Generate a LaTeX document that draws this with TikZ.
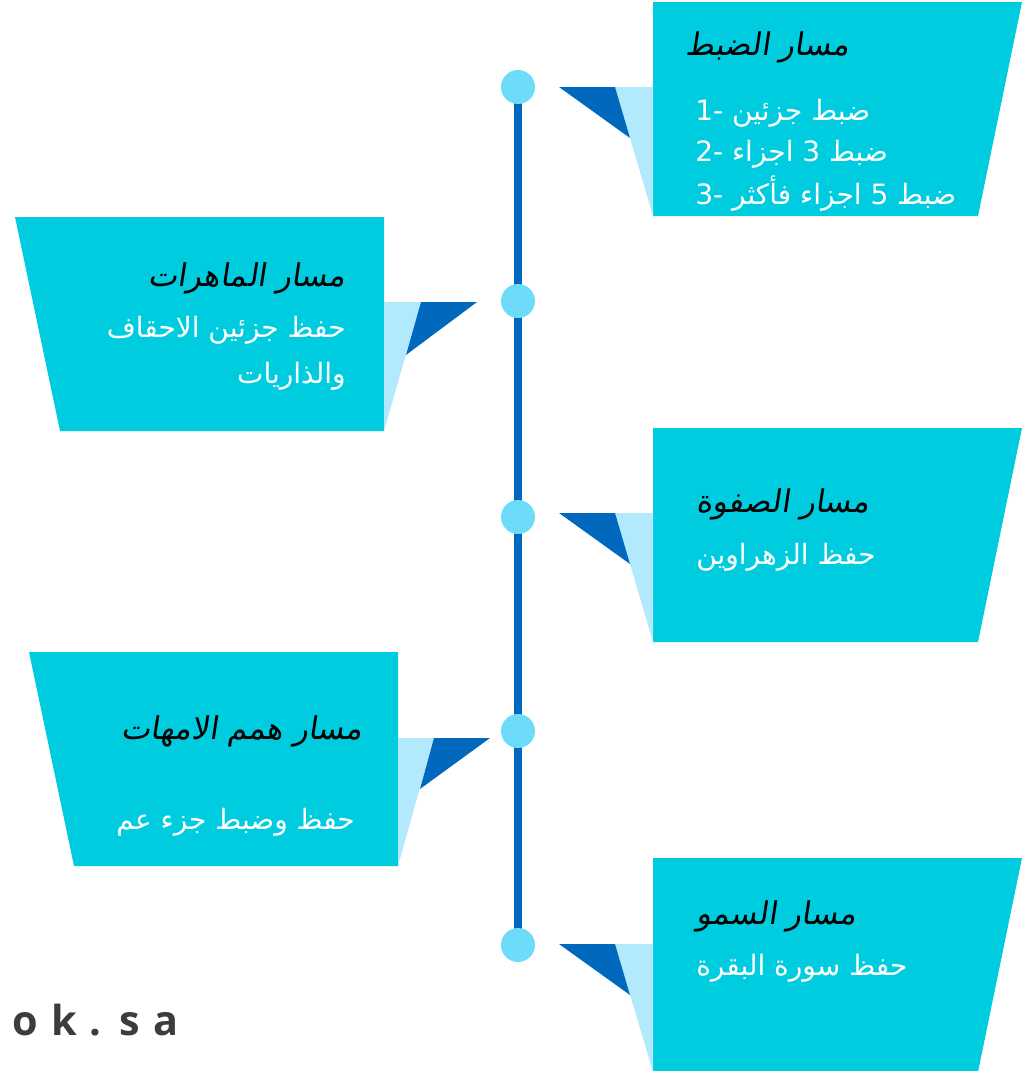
\documentclass[tikz,border=0pt]{standalone}
\usepackage{fontspec}
\usepackage{tikz}
\usepackage{xcolor}
\TeXXeTstate=1
\newfontfamily\arabicfont[Script=Arabic]{DejaVu Sans}
\newfontfamily\arabictitlefont[Script=Arabic, FakeSlant=0.15]{DejaVu Sans}
\newfontfamily\latinfont{DejaVu Sans}
\newfontfamily\logofont[LetterSpace=6]{Open Sans}
\pgfdeclarelayer{bg}
\pgfsetlayers{bg,main}
\definecolor{Card-A}{RGB}{0, 204, 224}
\definecolor{Card-B}{RGB}{179, 233, 252}
\definecolor{Card-C}{RGB}{0, 104, 189}
\definecolor{Dot-A}{RGB}{109, 220, 250}
\definecolor{Logo-A}{RGB}{60, 60, 60}

\begin{document}
\begin{tikzpicture}[x=0.75pt, y=-0.75pt,
    dot/.style={circle, fill=Dot-A, minimum size=25.5pt, inner sep=0pt},
    timeline/.style={Card-C, line width=6pt},
    title/.style={inner sep=0pt, font=\arabictitlefont\fontsize{23.5}{28}\selectfont, text=black},
    body/.style={inner sep=0pt, font=\arabicfont\fontsize{21}{25}\selectfont, text=white}]

    \useasboundingbox (0,0) rectangle (1028,1071);

    % timeline
    \node[dot] (dot1) at (518,87) {};
    \node[dot] (dot2) at (518,301) {};
    \node[dot] (dot3) at (518,517) {};
    \node[dot] (dot4) at (518,731) {};
    \node[dot] (dot5) at (518,945) {};
    \begin{pgfonlayer}{bg}
        \draw[timeline] (dot1.center) -- (dot5.center);
    \end{pgfonlayer}

    % right cards
    \fill[Card-A] (653,2) -- (1022,2) -- (978,216) -- (653,216) -- cycle;
    \fill[Card-B] (615,87) -- (653,87) -- (653,216) -- cycle;
    \fill[Card-C] (559,87) -- (615,87) -- (630,138) -- cycle;

    \fill[Card-A] (653,428) -- (1022,428) -- (978,642) -- (653,642) -- cycle;
    \fill[Card-B] (615,513) -- (653,513) -- (653,642) -- cycle;
    \fill[Card-C] (559,513) -- (615,513) -- (630,564) -- cycle;

    \fill[Card-A] (653,858) -- (1022,858) -- (978,1072) -- (653,1072) -- cycle;
    \fill[Card-B] (615,944) -- (653,944) -- (653,1072) -- cycle;
    \fill[Card-C] (559,944) -- (615,944) -- (630,995) -- cycle;

    % left cards
    \fill[Card-A] (15,217) -- (384,217) -- (384,431) -- (60,431) -- cycle;
    \fill[Card-B] (384,302) -- (421,302) -- (384,431) -- cycle;
    \fill[Card-C] (421,302) -- (477,302) -- (406,355) -- cycle;

    \fill[Card-A] (29,652) -- (398,652) -- (398,866) -- (74,866) -- cycle;
    \fill[Card-B] (398,738) -- (434,738) -- (398,866) -- cycle;
    \fill[Card-C] (434,738) -- (490,738) -- (420,789) -- cycle;

    % texts
    \node[title, anchor=west] (dabt) at (685,47) {\beginR مسار الضبط\endR};
    \node[body, anchor=west] (dabt1) at (695,113) {{\latinfont 1-} \beginR ضبط جزئين\endR};
    \node[body, anchor=west] (dabt2) at (695,154) {{\latinfont 2-} \beginR ضبط 3 اجزاء\endR};
    \node[body, anchor=west] (dabt3) at (695,194) {{\latinfont 3-} \beginR ضبط 5 اجزاء فأكثر\endR};

    \node[title, anchor=east] (mahirat) at (346,278) {\beginR مسار الماهرات\endR};
    \node[body, anchor=east] (mahirat1) at (346,330) {\beginR حفظ جزئين  الاحقاف\endR};
    \node[body, anchor=east] (mahirat2) at (346,376) {\beginR والذاريات\endR};

    \node[title, anchor=west] (safwa) at (696,504) {\beginR مسار الصفوة\endR};
    \node[body, anchor=west] (safwa1) at (696,557) {\beginR حفظ الزهراوين\endR};

    \node[title, anchor=east] (umahat) at (363,731) {\beginR مسار همم الامهات\endR};
    \node[body, anchor=east] (umahat1) at (355,822) {\beginR حفظ وضبط جزء عم\endR};

    \node[title, anchor=west] (sumuw) at (696,916) {\beginR مسار السمو\endR};
    \node[body, anchor=west] (sumuw1) at (696,968) {\beginR حفظ سورة البقرة\endR};

    \node[anchor=west, inner sep=0pt, font=\logofont\bfseries\fontsize{31}{36}\selectfont, text=Logo-A] (logo) at (12,1020) {o k . s a};

\end{tikzpicture}
\end{document}
